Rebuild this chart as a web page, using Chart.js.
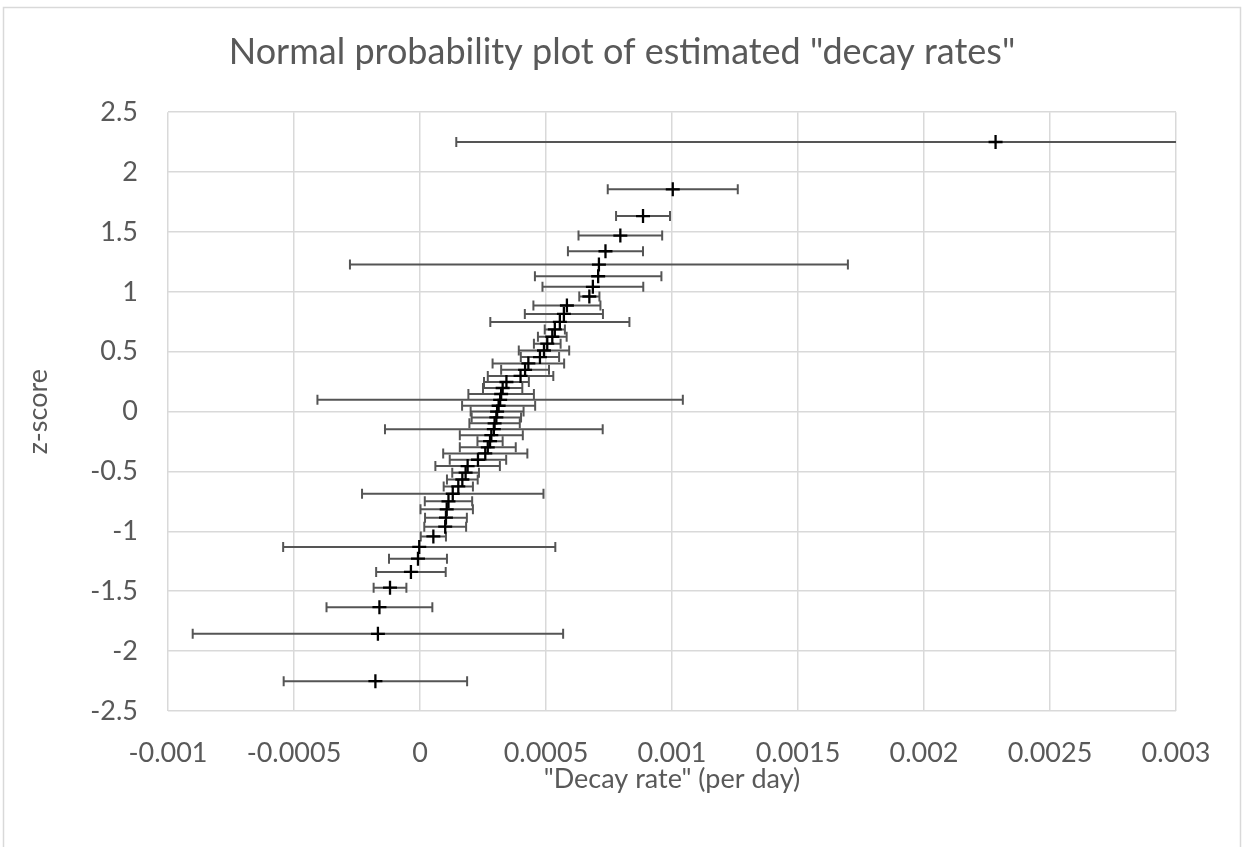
<!DOCTYPE html>
<html>
<head>
<meta charset="utf-8">
<title>Normal probability plot</title>
<script src="https://cdn.jsdelivr.net/npm/chart.js@4.4.1/dist/chart.umd.min.js"></script>
<style>
  html, body { margin: 0; padding: 0; background: #fff; }
  #wrap { position: relative; width: 1244px; height: 847px; }
</style>
</head>
<body>
<div id="wrap"><canvas id="chart" width="1244" height="847"></canvas></div>
<script>
// ---- data (sorted estimates, bottom to top) ----
const zScores = [-2.251, -1.856, -1.633, -1.470, -1.339, -1.228, -1.130, -1.042, -0.961, -0.886,
  -0.816, -0.749, -0.686, -0.625, -0.567, -0.510, -0.455, -0.402, -0.349, -0.298,
  -0.247, -0.197, -0.147, -0.098, -0.049, 0, 0.049, 0.098, 0.147, 0.197,
  0.247, 0.298, 0.349, 0.402, 0.455, 0.510, 0.567, 0.625, 0.686, 0.749,
  0.816, 0.886, 0.961, 1.042, 1.130, 1.228, 1.339, 1.470, 1.633, 1.856, 2.251];

const decayRates = [-0.000177, -0.000167, -0.000161, -0.000119, -0.000036, -0.000008, -0.000003, 0.000053, 0.000100, 0.000103,
  0.000106, 0.000113, 0.000130, 0.000152, 0.000168, 0.000181, 0.000189, 0.000230, 0.000259, 0.000269,
  0.000278, 0.000283, 0.000293, 0.000296, 0.000303, 0.000306, 0.000312, 0.000318, 0.000322, 0.000328,
  0.000343, 0.000399, 0.000417, 0.000430, 0.000476, 0.000492, 0.000505, 0.000525, 0.000535, 0.000555,
  0.000571, 0.000583, 0.000672, 0.000686, 0.000707, 0.000710, 0.000736, 0.000795, 0.000885, 0.001003, 0.002284];

// half-width of each horizontal error bar
const rateErrors = [0.000364, 0.000735, 0.000210, 0.000065, 0.000138, 0.000115, 0.000540, 0.000050, 0.000083, 0.000083,
  0.000104, 0.000094, 0.000360, 0.000058, 0.000061, 0.000053, 0.000128, 0.000112, 0.000167, 0.000111,
  0.000050, 0.000125, 0.000432, 0.000100, 0.000098, 0.000105, 0.000145, 0.000725, 0.000130, 0.000078,
  0.000089, 0.000130, 0.000095, 0.000142, 0.000076, 0.000100, 0.000053, 0.000057, 0.000040, 0.000276,
  0.000155, 0.000133, 0.000040, 0.000200, 0.000251, 0.000988, 0.000149, 0.000166, 0.000107, 0.000258, 0.002140];

const xTickValues = [-0.001, -0.0005, 0, 0.0005, 0.001, 0.0015, 0.002, 0.0025, 0.003];
const yTickValues = [-2.5, -2, -1.5, -1, -0.5, 0, 0.5, 1, 1.5, 2, 2.5];

const textColor = '#595959';
const gridColor = '#d9d9d9';
const fontFamily = 'Lato, "Open Sans", sans-serif';

// ---- chart background + outer border like the spreadsheet chart ----
const frame = {
  id: 'frame',
  beforeDraw(chart) {
    const ctx = chart.ctx;
    ctx.save();
    ctx.fillStyle = '#fff';
    ctx.fillRect(0, 0, chart.width, chart.height);
    ctx.strokeStyle = gridColor;
    ctx.lineWidth = 1.5;
    ctx.strokeRect(3.5, 7.5, chart.width - 7, chart.height + 10);
    ctx.restore();
  }
};

// ---- horizontal error bars, drawn under the markers ----
const errorBars = {
  id: 'errorBars',
  beforeDatasetsDraw(chart) {
    const ctx = chart.ctx;
    const xs = chart.scales.x;
    const ys = chart.scales.y;
    const area = chart.chartArea;
    ctx.save();
    ctx.beginPath();
    ctx.rect(area.left, area.top - 10, area.right - area.left, area.bottom - area.top + 20);
    ctx.clip();
    ctx.strokeStyle = '#555555';
    ctx.lineWidth = 2;
    zScores.forEach((z, i) => {
      const y = ys.getPixelForValue(z);
      const x1 = xs.getPixelForValue(decayRates[i] - rateErrors[i]);
      const x2 = xs.getPixelForValue(decayRates[i] + rateErrors[i]);
      ctx.beginPath();
      ctx.moveTo(x1, y);
      ctx.lineTo(x2, y);
      ctx.moveTo(x1, y - 5);
      ctx.lineTo(x1, y + 5);
      ctx.moveTo(x2, y - 5);
      ctx.lineTo(x2, y + 5);
      ctx.stroke();
    });
    ctx.restore();
  }
};

const points = zScores.map((z, i) => ({ x: decayRates[i], y: z }));

new Chart(document.getElementById('chart'), {
  type: 'scatter',
  data: {
    datasets: [{
      label: 'decay rate',
      data: points,
      pointStyle: 'cross',
      pointRadius: 7,
      pointHoverRadius: 7,
      borderWidth: 2.3,
      borderColor: '#000',
      backgroundColor: '#000'
    }]
  },
  options: {
    responsive: false,
    animation: false,
    layout: { padding: 0 },
    plugins: {
      legend: { display: false },
      tooltip: { enabled: false },
      title: {
        display: true,
        text: 'Normal probability plot of estimated "decay rates"',
        color: textColor,
        font: { family: fontFamily, size: 36, weight: 'normal', lineHeight: 1.2 },
        padding: { top: 31, bottom: 38 }
      }
    },
    scales: {
      x: {
        type: 'linear',
        min: -0.001,
        max: 0.003,
        afterBuildTicks: s => { s.ticks = xTickValues.map(v => ({ value: v })); },
        afterFit: s => { s.height = 136; },
        grid: { color: gridColor, lineWidth: 1.5, drawTicks: false },
        border: { display: false },
        ticks: {
          color: textColor,
          padding: 26,
          maxRotation: 0,
          font: { family: fontFamily, size: 27 },
          callback: v => String(v)
        },
        title: {
          display: true,
          text: '"Decay rate" (per day)',
          color: textColor,
          font: { family: fontFamily, size: 27 },
          padding: { bottom: 52 }
        }
      },
      y: {
        type: 'linear',
        min: -2.5,
        max: 2.5,
        afterBuildTicks: s => { s.ticks = yTickValues.map(v => ({ value: v })); },
        afterFit: s => { s.width = 168; },
        grid: { color: gridColor, lineWidth: 1.5, drawTicks: false },
        border: { display: false },
        ticks: {
          color: textColor,
          padding: 30,
          font: { family: fontFamily, size: 27 },
          callback: v => String(v)
        },
        title: {
          display: true,
          text: 'z-score',
          color: textColor,
          font: { family: fontFamily, size: 27 },
          padding: { top: 22 }
        }
      },
      // empty right-hand box, only keeps the plot's right edge where the original has it
      spacer: {
        type: 'linear',
        position: 'right',
        min: 0,
        max: 1,
        grid: { display: false, drawTicks: false },
        border: { display: false },
        ticks: { display: false },
        afterFit: s => { s.width = 68; }
      }
    }
  },
  plugins: [frame, errorBars]
});
</script>
</body>
</html>
